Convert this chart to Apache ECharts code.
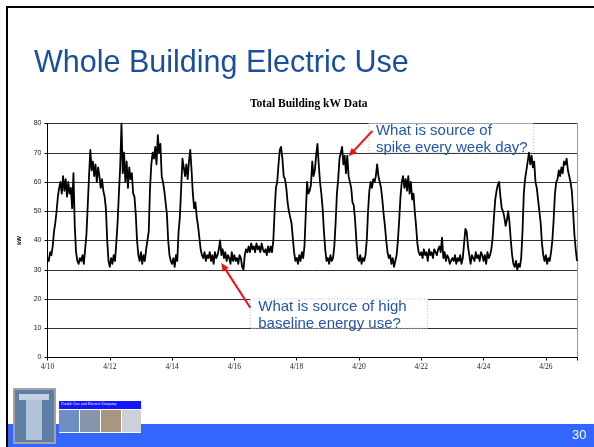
<!DOCTYPE html>
<html>
<head>
<meta charset="utf-8">
<script src="https://cdn.jsdelivr.net/npm/echarts@6/dist/echarts.min.js"></script>
<style>
html,body{margin:0;padding:0;background:#fff;}
#main{width:594px;height:447px;}
</style>
</head>
<body>
<div id="main"></div>
<script>
// tick labels on the date axis (one every 2 days, axis value = days since 4/10)
var xTickLabels = ['4/10','4/12','4/14','4/16','4/18','4/20','4/22','4/24','4/26'];

// hourly kW readings, one line per day
var week1 = [
  34,33,36,35,38,43,46,50,55,58,60,56,62,57,61,55,60,56,58,51,63,45,36,33, // 4/10
  32,34,33,35,32,37,42,52,62,71,64,67,62,66,60,65,62,58,61,57,55,51,40,33, // 4/11
  31,34,32,35,33,39,46,56,65,80,63,70,60,67,58,65,61,63,56,55,49,40,35,33, // 4/12
  36,32,35,33,37,40,43,58,66,70,68,72,66,76,70,73,62,60,57,53,49,40,35,33, // 4/13
  32,34,31,35,33,43,48,58,68,65,62,66,61,67,71,64,56,51,53,48,45,41,37,35, // 4/14
  34,36,33,35,34,36,33,35,32,36,34,35,37,40,35,37,34,36,33,35,34,32,36,33, // 4/15
  35,33,34,32,35,34,31,30,35,37,36,38,36,39,37,38,36,39,37,38,36,39,37,36  // 4/16
];
var week2 = [
  37,35,38,36,38,36,40,50,58,60,66,71,72,68,62,61,58,53,50,48,46,41,36,33, // 4/17
  34,32,35,33,36,34,38,49,60,56,57,59,67,62,64,69,73,66,60,56,51,43,37,33, // 4/18
  34,32,35,33,34,38,46,56,61,68,70,72,66,69,63,69,62,60,58,53,52,47,40,34, // 4/19
  33,35,32,34,33,35,40,50,57,60,58,61,60,62,66,62,60,58,54,49,45,40,36,34, // 4/20
  35,32,34,31,33,35,40,47,55,60,62,58,61,57,62,56,60,54,56,50,45,39,36,35, // 4/21
  36,34,37,35,36,33,37,35,36,34,37,36,35,37,38,36,41,34,36,33,35,34,32,33, // 4/22
  34,33,35,32,34,33,35,32,34,39,44,43,38,35,32,35,34,33,36,34,35,33,36,35  // 4/23
];
var week3 = [
  33,35,32,36,34,35,37,41,48,54,57,59,60,55,51,50,48,45,47,50,46,40,35,32, // 4/24
  31,33,30,32,31,34,43,56,61,64,67,70,66,69,65,67,60,58,54,50,46,39,35,33, // 4/25
  35,32,34,33,36,40,47,56,60,61,64,62,65,63,67,66,68,64,64,60,57,50,42,37  // 4/26
];
var lastReading = 33; // 4/27 00:00

var hourly = week1.concat(week2, week3);
hourly.push(lastReading);
var kwData = hourly.map(function(v, i){ return [i / 24, v]; });

var titleBlue = '#1b4e9b';
var noteBlue = '#2456a6';
var comic = "'Comic Sans MS', 'Liberation Sans', sans-serif";

var chart = echarts.init(document.getElementById('main'));

var option = {
  animation: false,
  backgroundColor: '#fff',
  title: [
    {
      text: 'Whole Building Electric Use',
      left: 29, top: 43,
      textStyle: {fontFamily: comic, fontSize: 30.5, fontWeight: 'normal', color: titleBlue}
    },
    {
      text: 'Total Building kW Data',
      left: 245, top: 93,
      textStyle: {fontFamily: 'Liberation Serif', fontSize: 11.5, fontWeight: 'bold', color: '#000'}
    }
  ],
  grid: {left: 47.5, right: 17, top: 123.5, bottom: 89.5, containLabel: false},
  xAxis: {
    type: 'value', min: 0, max: 17, interval: 2,
    axisLine: {show: true, onZero: false, lineStyle: {color: '#000', width: 1}},
    axisTick: {show: true, length: 3, lineStyle: {color: '#000'}},
    axisLabel: {
      fontFamily: 'Liberation Serif', fontSize: 7.5, color: '#222', margin: 6,
      formatter: function(v){ return xTickLabels[v / 2] || ''; }
    },
    splitLine: {show: false}
  },
  yAxis: [
    {
      type: 'value', min: 0, max: 80, interval: 10,
      name: 'kW', nameLocation: 'middle', nameGap: 25, nameRotate: 90,
      nameTextStyle: {fontFamily: 'Liberation Sans', fontSize: 6, fontWeight: 'bold', color: '#000'},
      axisLine: {show: true, lineStyle: {color: '#000', width: 1}},
      axisTick: {show: true, length: 3, lineStyle: {color: '#000'}},
      axisLabel: {fontFamily: 'Liberation Sans', fontSize: 7, color: '#222', margin: 6},
      splitLine: {show: true, lineStyle: {color: '#333', width: 1}}
    },
    {
      type: 'value', min: 0, max: 80, interval: 10, position: 'right',
      axisLine: {show: true, lineStyle: {color: '#999', width: 1}},
      axisTick: {show: false}, axisLabel: {show: false}, splitLine: {show: false}
    }
  ],
  series: [{
    type: 'line',
    data: kwData,
    showSymbol: false,
    symbol: 'none',
    lineStyle: {color: '#000', width: 1.8, join: 'round'},
    z: 3
  }]
};
chart.setOption(option);

// annotation boxes and arrows anchored in data space
function px(t, v){ return chart.convertToPixel({gridIndex: 0}, [t, v]); }

function arrow(from, to){
  var dx = to[0] - from[0], dy = to[1] - from[1];
  var len = Math.sqrt(dx*dx + dy*dy);
  var ux = dx / len, uy = dy / len;
  var L = 8, W = 3.5;
  var bx = to[0] - ux*L, by = to[1] - uy*L;
  return [
    {type: 'line', z: 6, shape: {x1: from[0], y1: from[1], x2: bx + ux, y2: by + uy},
     style: {stroke: '#f01010', lineWidth: 2}},
    {type: 'polygon', z: 6, shape: {points: [[to[0], to[1]], [bx - uy*W, by + ux*W], [bx + uy*W, by - ux*W]]},
     style: {fill: '#f01010'}}
  ];
}

var lowA = px(6.51, 20), lowB = px(12.2, 10);
var topA = px(10.32, 80), topB = px(15.6, 70);

var graphics = [
  // slide frame
  {type: 'rect', z: 0, shape: {x: 6, y: 6, width: 588, height: 2}, style: {fill: '#000'}},
  {type: 'rect', z: 0, shape: {x: 6, y: 6, width: 2, height: 441}, style: {fill: '#000'}},
  {type: 'rect', z: 0, shape: {x: 8, y: 424, width: 586, height: 23}, style: {fill: '#3366ff'}},
  {type: 'text', z: 5, x: 572, y: 429, style: {text: '30', fill: '#fff', font: '13px Liberation Sans'}},
  // logos
  {type: 'rect', z: 4, shape: {x: 14, y: 389, width: 41, height: 54}, style: {fill: '#5e7ea6', stroke: '#a3a3a3', lineWidth: 2}},
  {type: 'rect', z: 4, shape: {x: 26, y: 400, width: 16, height: 40}, style: {fill: '#c5d3e6', opacity: 0.8}},
  {type: 'rect', z: 4, shape: {x: 19, y: 394, width: 30, height: 6}, style: {fill: '#dfe6f0', opacity: 0.8}},
  {type: 'rect', z: 4, shape: {x: 59, y: 401, width: 82, height: 32}, style: {fill: '#fff'}},
  {type: 'rect', z: 4, shape: {x: 59, y: 401, width: 82, height: 8}, style: {fill: '#1414ff'}},
  {type: 'text', z: 5, x: 61, y: 402, style: {text: 'Pacific Gas and Electric Company', fill: '#fff', font: 'italic 4px Liberation Serif'}},
  {type: 'rect', z: 4, shape: {x: 59, y: 410, width: 20, height: 22}, style: {fill: '#6f8fc0'}},
  {type: 'rect', z: 4, shape: {x: 80, y: 410, width: 20, height: 22}, style: {fill: '#8796a8'}},
  {type: 'rect', z: 4, shape: {x: 101, y: 410, width: 20, height: 22}, style: {fill: '#a8967e'}},
  {type: 'rect', z: 4, shape: {x: 122, y: 410, width: 19, height: 22}, style: {fill: '#cdd0d8'}},
  // note boxes
  {type: 'rect', z: 1, shape: {x: lowA[0], y: lowA[1], width: lowB[0] - lowA[0], height: lowB[1] - lowA[1]},
   style: {fill: '#fff', stroke: '#b8b8b8', lineWidth: 1, lineDash: [1, 2]}},
  {type: 'rect', z: 1, shape: {x: topA[0], y: topA[1], width: topB[0] - topA[0], height: topB[1] - topA[1]},
   style: {fill: '#fff', stroke: '#b8b8b8', lineWidth: 1, lineDash: [1, 2]}},
  {type: 'text', z: 6, x: lowA[0] + 8, y: lowA[1] - 1,
   style: {text: 'What is source of high\nbaseline energy use?', fill: noteBlue, font: '15px ' + comic, lineHeight: 17}},
  {type: 'text', z: 6, x: topA[0] + 7, y: topA[1] - 1,
   style: {text: 'What is source of\nspike every week day?', fill: noteBlue, font: '15px ' + comic, lineHeight: 17}}
];
graphics = graphics.concat(arrow(px(6.51, 17), px(5.58, 32.3)));
graphics = graphics.concat(arrow(px(10.43, 77.5), px(9.67, 68.8)));

chart.setOption({graphic: graphics});
</script>
</body>
</html>
